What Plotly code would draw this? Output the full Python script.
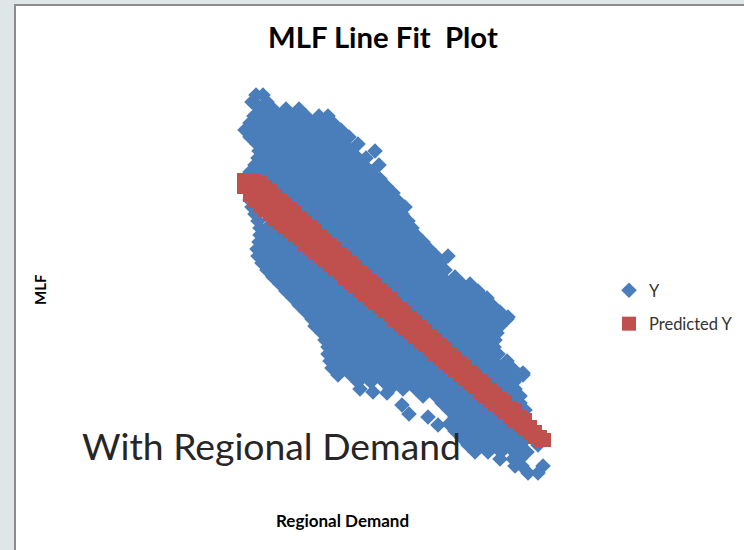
import plotly.graph_objects as go

# Values. The chart has no scale, so both axes are in arbitrary chart units.
row_mlf = [455,448,441,434,427,420,413,406,399,392,385,378,371,364,357,350,343,336,329,322,315,308,301,294,287,280,273,266,259,252,245,238,231,224,217,210,203,196,189,182,175,168,161,154,147,140,133,126,119,112,105,98,91,84,77]
row_demand = [
 [256,263],
 [252,254,267],
 [260,273,286,299],
 [254,267,280,293,306,319,328],
 [250,260,273,286,299,312,325,333],
 [245,254,267,280,293,306,319,332,341],
 [250,260,273,286,299,312,325,338,349],
 [257,267,280,293,306,319,332,345,358],
 [259,273,286,299,312,325,338,351,375],
 [258,267,280,293,306,319,332,345,358,366],
 [255,260,273,286,299,312,325,338,351,364,379],
 [250,254,267,280,293,306,319,332,345,358,371],
 [250,260,273,286,299,312,325,338,351,364,377,380],
 [254,267,280,293,306,319,332,345,358,371,384,386],
 [260,273,286,299,312,325,338,351,364,377,390,393],
 [250,254,267,280,293,306,319,332,345,358,371,384,397],
 [252,260,273,286,299,312,325,338,351,364,377,390,403,405],
 [255,267,280,293,306,319,332,345,358,371,384,397,402],
 [258,273,286,299,312,325,338,351,364,377,390,403,408],
 [260,267,280,293,306,319,332,345,358,371,384,397,410,412],
 [260,273,286,299,312,325,338,351,364,377,390,403,416],
 [259,267,280,293,306,319,332,345,358,371,384,397,410,423],
 [257,260,273,286,299,312,325,338,351,364,377,390,403,416,429],
 [258,267,280,293,306,319,332,345,358,371,384,397,410,423,436,448],
 [262,273,286,299,312,325,338,351,364,377,390,403,416,429,440],
 [267,280,293,306,319,332,345,358,371,384,397,410,423,436,445],
 [273,286,299,312,325,338,351,364,377,390,403,416,429,442,455],
 [280,293,306,319,332,345,358,371,384,397,410,423,436,449,462,470],
 [286,299,312,325,338,351,364,377,390,403,416,429,442,455,468,478],
 [293,306,319,332,345,358,371,384,397,410,423,436,449,462,475,487],
 [299,312,325,338,351,364,377,390,403,416,429,442,455,468,481,492],
 [306,319,332,345,358,371,384,397,410,423,436,449,462,475,488,500],
 [312,325,338,351,364,377,390,403,416,429,442,455,468,481,494,507],
 [315,319,332,345,358,371,384,397,410,423,436,449,462,475,488,500],
 [322,325,338,351,364,377,390,403,416,429,442,455,468,481,494,497],
 [325,332,345,358,371,384,397,410,423,436,449,462,475,488,495],
 [328,338,351,364,377,390,403,416,429,442,455,468,481,494],
 [328,332,345,358,371,384,397,410,423,436,449,462,475,488,498],
 [330,338,351,364,377,390,403,416,429,442,455,468,481,494,507],
 [332,345,358,371,384,397,410,423,436,449,462,475,488,501,512],
 [338,351,364,377,390,403,416,429,442,455,468,481,494,507,520,523],
 [358,371,384,397,410,423,436,449,462,475,488,501,514],
 [390,403,416,429,442,455,468,481,494,507,515],
 [423,436,449,462,475,488,501,514,520],
 [442,455,468,481,494,507,520],
 [449,462,475,488,501,514,525],
 [455,468,481,494,507,520],
 [449,462,475,488,501,514,527],
 [455,468,481,494,507,520,533],
 [462,475,488,501,514,527],
 [468,481,494,507,520,538],
 [475,488,501,514,527],
 [500,513,520],
 [515,522,543],
 [528,538],
]
stray_demand = [360,373,387,402,409,428,438,523,508,478]
stray_mlf = [161,158,157,145,136,133,125,177,233,257]

pred_demand = [244,254,
               260,265,270,275,280,285,290,295,300,305,310,315,320,325,330,335,340,345,350,355,360,365,370,375,380,385,390,395,400,405,410,415,420,425,430,435,440,445,450,455,460,465,470,475,480,485,490,495,500,505,510,515,520,525,530,535,540,544,
               244,250,255,260,265,270,275,280,285,290,295,300,305,310,315,320,325,330,335,340,345,350,355,360,365,370,375,380,385,390,395,400,405,410,415,420,425,430,435,440,445,450,455,460,465,470,475,480,485,490,495,500,505,510,515,520,525,530,535,540,
               255,265,275,285,295,305,315,325,335,345,355,365,375,385,395,405,415,425,435,445,455,465,475,485,495,505,515,525]
pred_mlf = [370,369,
            367,363,359,354,350,346,341,337,332,328,323,319,314,310,305,301,296,292,287,283,278,274,269,265,260,256,251,246,241,237,232,228,223,219,214,210,205,201,196,192,187,183,178,174,169,165,160,156,151,147,142,137,133,128,123,118,113,110,
            363,355,349,344,340,336,331,327,323,319,315,311,306,302,298,294,290,285,281,277,272,268,264,260,255,251,247,243,239,235,230,226,222,218,213,209,205,201,196,192,188,184,180,175,171,167,163,158,154,150,146,142,138,133,129,125,121,117,113,110,
            357,349,342,333,325,317,309,300,292,284,275,267,258,250,242,233,225,216,207,199,190,181,173,165,156,148,139,130]

categories = ["Y", "Predicted Y"]
title_text = "MLF Line Fit  Plot"
x_title = "Regional Demand"
y_title = "MLF"
note_text = "With Regional Demand"

demand = [d for row, m in zip(row_demand, row_mlf) for d in row] + stray_demand
mlf = [m for row, m in zip(row_demand, row_mlf) for d in row] + stray_mlf

W, H = 744, 550
px = lambda v: v / W
py = lambda v: (H - v) / H

fig = go.Figure()
fig.add_trace(go.Scatter(x=demand, y=mlf, mode="markers", name=categories[0], legendgroup="a",
                         marker=dict(symbol="diamond", size=12, color="#4A7EBB", line=dict(width=0))))
fig.add_trace(go.Scatter(x=pred_demand, y=pred_mlf, mode="markers", name=categories[1], legendgroup="b",
                         marker=dict(symbol="square", size=14, color="#C0504D", line=dict(width=0))))

fig.add_annotation(text=note_text, xref="paper", yref="paper", x=px(80), y=py(445), xanchor="left", yanchor="middle",
                   showarrow=False, font=dict(family="Lato", size=37.3, color="#262626"))
fig.add_annotation(text=title_text, xref="paper", yref="paper", x=px(382.5), y=py(37), xanchor="center", yanchor="middle",
                   showarrow=False, font=dict(family="Lato", size=29.3, color="#000000", weight="bold"))
fig.add_annotation(text=x_title, xref="paper", yref="paper", x=px(342), y=py(520), xanchor="center", yanchor="middle",
                   showarrow=False, font=dict(family="Lato", size=17, color="#000000", weight="bold"))
fig.add_annotation(text=y_title, xref="paper", yref="paper", x=px(40), y=py(290), xanchor="center", yanchor="middle",
                   textangle=-90, showarrow=False, font=dict(family="Lato", size=15, color="#000000", weight="bold"))

fig.add_shape(type="rect", xref="paper", yref="paper", x0=px(15), x1=px(770), y0=py(5), y1=py(580), layer="below",
              fillcolor="#FFFFFF", line=dict(color="#8C8C8C", width=2))

fig.update_layout(
    width=W, height=H, autosize=False,
    margin=dict(l=0, r=0, t=0, b=0),
    paper_bgcolor="#DFE6E8", plot_bgcolor="rgba(0,0,0,0)",
    xaxis=dict(range=[0, W], visible=False),
    yaxis=dict(range=[0, H], visible=False),
    legend=dict(x=px(609), y=py(273), xanchor="left", yanchor="top", bgcolor="rgba(0,0,0,0)",
                tracegroupgap=9, itemwidth=30, font=dict(family="Lato", size=16.5, color="#333333")),
    showlegend=True,
)
fig.write_html("out.html", config=dict(displayModeBar=False),
               post_script="document.body.style.margin='0';document.documentElement.style.overflow='hidden';")
